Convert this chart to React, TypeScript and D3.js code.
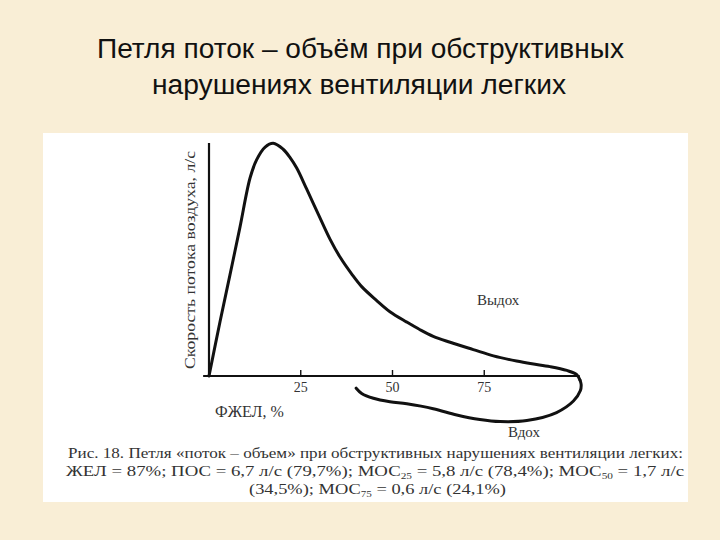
import React from "react";
import * as d3 from "d3";

// Exhale branch: volume (% of FVC) vs flow (l/s)
const exhaleVolume = [0, 3.0, 5.7, 8.4, 11.2, 13.0, 15.3, 17.5, 20.2, 22.1, 23.9, 26.6, 29.8, 33.0, 35.7, 38.9, 41.6, 45.7, 49.3, 53.9, 57.5, 61.1, 65.7, 72.0, 77.5, 83.8, 88.0, 92.9, 97.5, 100.2, 101.1];
const exhaleFlow = [0, 1.56, 2.9, 4.26, 5.7, 6.22, 6.58, 6.69, 6.52, 6.28, 5.98, 5.38, 4.65, 3.93, 3.42, 2.93, 2.57, 2.17, 1.85, 1.55, 1.33, 1.14, 0.97, 0.76, 0.58, 0.43, 0.35, 0.27, 0.16, 0.04, -0.12];

// Inhale branch
const inhaleVolume = [101.1, 101.4, 101.2, 99.3, 94.7, 86.6, 79.3, 73.8, 67.5, 61.1, 53.9, 49.3, 44.8, 41.6, 40.1];
const inhaleFlow = [-0.12, -0.24, -0.42, -0.72, -1.05, -1.28, -1.31, -1.25, -1.12, -0.94, -0.8, -0.74, -0.64, -0.5, -0.35];

const xTicks = [25, 50, 75];

const titleLines = ["Петля поток – объём при обструктивных", "нарушениях вентиляции легких"];
const yLabel = "Скорость потока воздуха, л/с";
const xLabel = "ФЖЕЛ, %";

export default function App() {
  const W = 720, H = 540;
  const x = d3.scaleLinear().domain([0, 100]).range([209, 576]);
  const y = d3.scaleLinear().domain([0, 6.7]).range([376, 143]);

  const line = d3
    .line<[number, number]>()
    .x((d) => x(d[0]))
    .y((d) => y(d[1]))
    .curve(d3.curveCatmullRom.alpha(0.5));

  const exhale: [number, number][] = exhaleVolume.map((v, i) => [v, exhaleFlow[i]]);
  const inhale: [number, number][] = inhaleVolume.map((v, i) => [v, inhaleFlow[i]]);

  const serif = "'Liberation Serif', 'DejaVu Serif', serif";
  const sans = "'Liberation Sans', Arial, sans-serif";
  const sub = { fontSize: 9, baselineShift: "-3px" } as any;

  return (
    <svg width={W} height={H} style={{ position: "absolute", left: 0, top: 0 }}>
      <rect x={0} y={0} width={W} height={H} fill="#F9EED6" />
      <g fontFamily={sans} fontSize={27} fill="#111" textAnchor="middle">
        <text x={360.5} y={58} textLength={527} lengthAdjust="spacingAndGlyphs">{titleLines[0]}</text>
        <text x={359} y={94} textLength={414} lengthAdjust="spacingAndGlyphs">{titleLines[1]}</text>
      </g>
      <rect x={43} y={133} width={645} height={369} fill="#FFFFFF" />

      {/* axes */}
      <line x1={x(0)} x2={x(0)} y1={y(6.7)} y2={y(0)} stroke="#111" strokeWidth={2.2} />
      <line x1={x(-1.6)} x2={x(101)} y1={y(0)} y2={y(0)} stroke="#111" strokeWidth={2.2} />
      {xTicks.map((t) => (
        <g key={t}>
          <line x1={x(t)} x2={x(t)} y1={y(0)} y2={y(0) - 6} stroke="#111" strokeWidth={1.4} />
          <text x={x(t)} y={392} textAnchor="middle" fontFamily={serif} fontSize={14} fill="#333">
            {t}
          </text>
        </g>
      ))}

      <path d={line(exhale) || ""} fill="none" stroke="#111" strokeWidth={3} strokeLinejoin="round" strokeLinecap="round" />
      <path d={line(inhale) || ""} fill="none" stroke="#111" strokeWidth={3} strokeLinejoin="round" strokeLinecap="round" />

      <text
        transform="translate(195,260) rotate(-90)"
        textAnchor="middle"
        fontFamily={serif}
        fontSize={15}
        fill="#333"
        textLength={218}
        lengthAdjust="spacingAndGlyphs"
      >
        {yLabel}
      </text>
      <text x={215} y={417} fontFamily={serif} fontSize={16} fill="#333">{xLabel}</text>
      <text x={477} y={305} fontFamily={serif} fontSize={15} fill="#333">Выдох</text>
      <text x={508} y={437} fontFamily={serif} fontSize={15} fill="#333">Вдох</text>

      <g fontFamily={serif} fontSize={15} fill="#333" textAnchor="middle">
        <text x={375.5} y={458} textLength={615} lengthAdjust="spacingAndGlyphs">
          Рис. 18. Петля «поток – объем» при обструктивных нарушениях вентиляции легких:
        </text>
        <text x={375} y={476} textLength={618} lengthAdjust="spacingAndGlyphs">
          ЖЕЛ = 87%; ПОС = 6,7 л/с (79,7%); МОС<tspan style={sub}>25</tspan><tspan> = 5,8 л/с (78,4%); МОС</tspan><tspan style={sub}>50</tspan><tspan> = 1,7 л/с</tspan>
        </text>
        <text x={377.5} y={494} textLength={257} lengthAdjust="spacingAndGlyphs">
          (34,5%); МОС<tspan style={sub}>75</tspan><tspan> = 0,6 л/с (24,1%)</tspan>
        </text>
      </g>
    </svg>
  );
}
